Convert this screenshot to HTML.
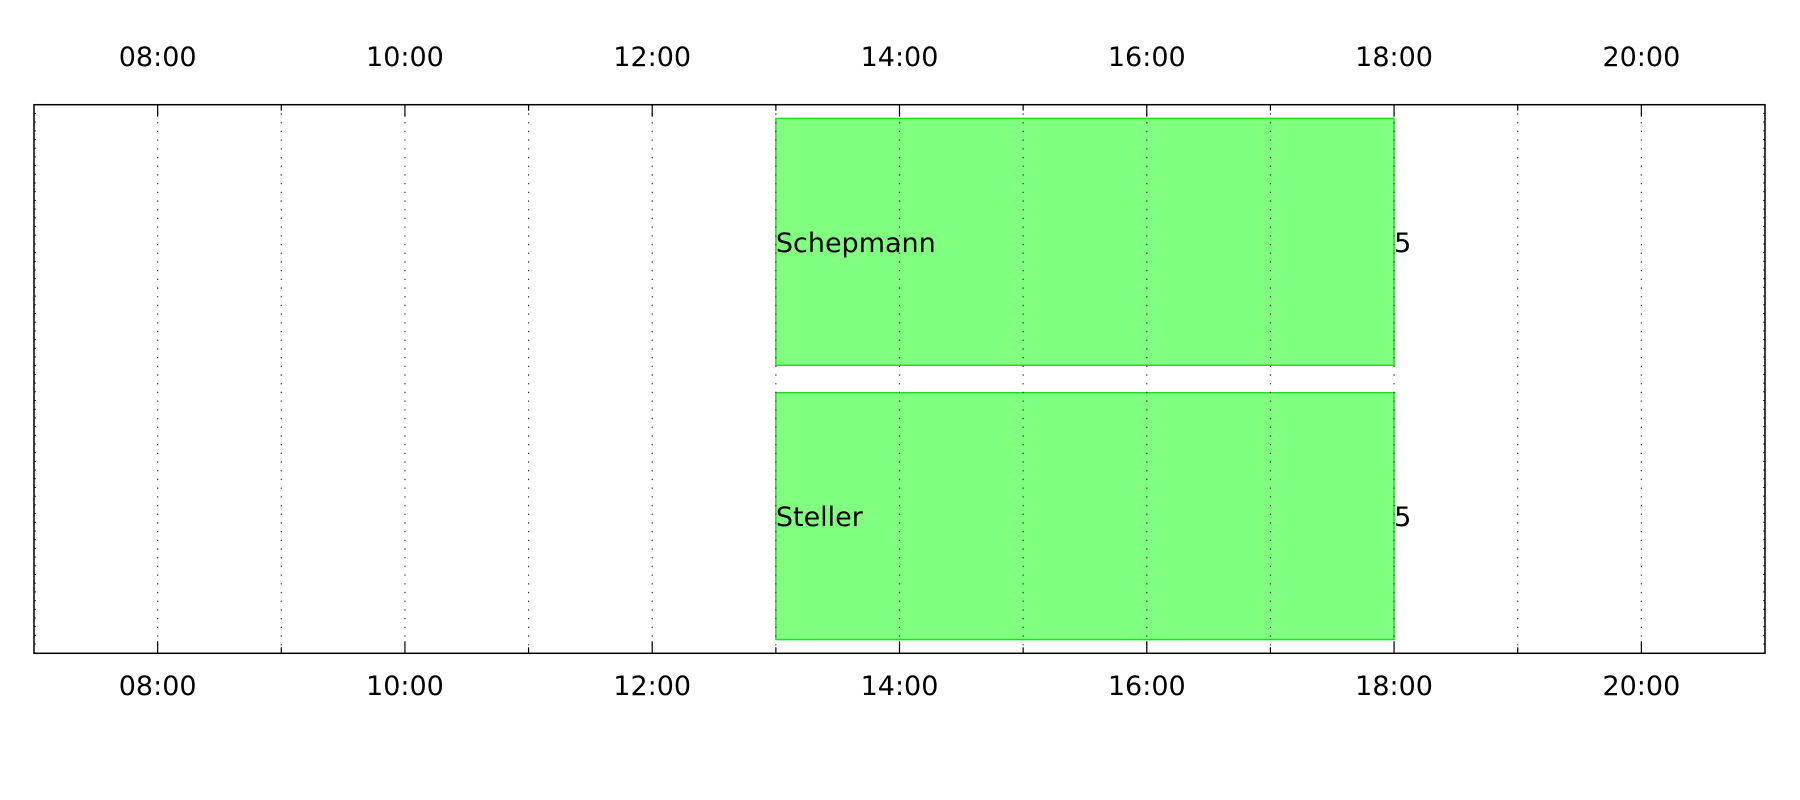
<!DOCTYPE html>
<html><head><meta charset="utf-8"><style>
html,body{margin:0;padding:0;background:#fff;width:1800px;height:800px;overflow:hidden}
text{font-family:"DejaVu Sans","Liberation Sans",sans-serif}
</style></head><body>
<svg id="chart" width="1800" height="800" viewBox="0 0 1800 800" xmlns="http://www.w3.org/2000/svg"></svg>
<script>
const rows = ["Schepmann", "Steller"];
const startHours = [13, 13];
const endHours = [18, 18];
const endLabels = ["5", "5"];
const tickHours = [8, 10, 12, 14, 16, 18, 20];
const tickLabels = ["08:00", "10:00", "12:00", "14:00", "16:00", "18:00", "20:00"];
const gridHours = [8, 9, 10, 11, 12, 13, 14, 15, 16, 17, 18, 19, 20];

const L = 34, R = 1765, T = 104.7, B = 653.3, h0 = 7, h1 = 21;
const x = h => L + (h - h0) / (h1 - h0) * (R - L);
const band = (B - T) / rows.length;
const yc = i => T + band * (i + 0.5);
const NS = "http://www.w3.org/2000/svg";
const svg = document.getElementById("chart");
function mk(tag, attrs, parent) {
  const e = document.createElementNS(NS, tag);
  for (const k in attrs) e.setAttribute(k, attrs[k]);
  (parent || svg).appendChild(e);
  return e;
}
// bars
rows.forEach((r, i) => {
  const bh = band * 0.9;
  const rect = mk("rect", {x: x(startHours[i]), y: yc(i) - bh / 2, width: x(endHours[i]) - x(startHours[i]), height: bh, fill: "#80ff80", stroke: "#22dd22", "stroke-width": 1.5});
  
  
});
// grid
gridHours.forEach(h => {
  const g = mk("line", {x1: x(h), x2: x(h), y1: T, y2: B, stroke: "#333", "stroke-width": 1.2, "stroke-dasharray": "1.3,7.4"});
  
  
  const len = (h % 2 === 0) ? 12 : 6;
  const t1 = mk("line", {x1: x(h), x2: x(h), y1: T, y2: T + len, stroke: "#000", "stroke-width": 1.2});
  
  
  const t2 = mk("line", {x1: x(h), x2: x(h), y1: B - len, y2: B, stroke: "#000", "stroke-width": 1.2});
  
  
});
// left/right minor ticks
for (let y = T + 8.7; y < B; y += 8.7) {
  mk("line", {x1: L, x2: L + 2, y1: y, y2: y, stroke: "#333", "stroke-width": 1});
  mk("line", {x1: R - 2, x2: R, y1: y, y2: y, stroke: "#333", "stroke-width": 1});
}
// frame
const fr = mk("rect", {x: L, y: T, width: R - L, height: B - T, fill: "none", stroke: "#000", "stroke-width": 1.5});


// labels
tickHours.forEach((h, i) => {
  const a = mk("text", {x: x(h), y: 66, "font-size": 27, "text-anchor": "middle"});
  a.textContent = tickLabels[i];
  
  
  const b = mk("text", {x: x(h), y: 695, "font-size": 27, "text-anchor": "middle"});
  b.textContent = tickLabels[i];
  
  
});
rows.forEach((r, i) => {
  const t = mk("text", {x: x(startHours[i]), y: yc(i) + 10, "font-size": 27});
  t.textContent = r;
  
  
  const v = mk("text", {x: x(endHours[i]), y: yc(i) + 10, "font-size": 27});
  v.textContent = endLabels[i];
  
  
});
</script>
</body></html>
